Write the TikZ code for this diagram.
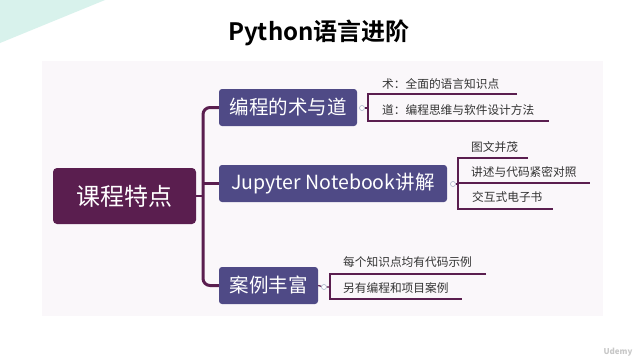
\documentclass[tikz,border=0pt]{standalone}
\usepackage{fontspec}
\setmainfont{Noto Sans CJK SC}
\newfontfamily\cjkb{Noto Sans CJK SC Bold}
\definecolor{deep}{HTML}{5A1E4F}
\definecolor{slate}{HTML}{4F4A86}
\definecolor{panel}{HTML}{FAF7FA}
\definecolor{mint}{HTML}{D8F2EC}
\definecolor{knob}{HTML}{A9B4C8}
\definecolor{subtxt}{HTML}{333333}
\begin{document}
\begin{tikzpicture}[x=1pt,y=-1pt,
  rootbox/.style={fill=deep,rounded corners=4pt,text=white,font=\fontsize{24}{28}\selectfont,inner sep=0pt},
  branchbox/.style={fill=slate,rounded corners=3pt,text=white,font=\fontsize{19.5}{22}\selectfont,inner sep=0pt,minimum height=37pt},
  mainline/.style={draw=deep,line width=3pt,rounded corners=7pt},
  subline/.style={draw=deep,line width=1.2pt},
  knobc/.style={circle,draw=knob,fill=white,line width=0.6pt,inner sep=0pt,minimum size=5pt},
  leaf/.style={anchor=west,text=subtxt,font=\fontsize{11.7}{13}\selectfont,inner sep=0pt}]
\useasboundingbox (0,0) rectangle (640,360);
\fill[white] (0,0) rectangle (640,360);
\fill[mint] (0,0) -- (105,0) -- (0,43) -- cycle;
\fill[panel] (42,61) rectangle (603,316);
\node[font=\cjkb\fontsize{24}{28}\selectfont] (title) at (319,33) {Python语言进阶};
\node[text=black!22,font=\bfseries\fontsize{8}{9}\selectfont] (wm) at (618,352) {Udemy};

\node[rootbox,minimum width=143pt,minimum height=56pt] (root) at (124.5,196) {课程特点};
\node[branchbox,minimum width=138pt] (b1) at (288,107.5) {编程的术与道};
\node[branchbox,minimum width=228pt] (b2) at (333,183.5) {Jupyter Notebook讲解};
\node[branchbox,minimum width=99pt] (b3) at (268.5,285.5) {案例丰富};

\coordinate (jt) at (203,107.5);
\coordinate (jb) at (203,285.5);
\draw[mainline] (b1.west) -- (jt) -- (jb) -- (b3.west);
\draw[draw=deep,line width=3pt] (jt|-b2.west) -- (b2.west);
\draw[draw=deep,line width=2pt] (root.east) -- (root.east-|jt);

% branch 1 leaves
\node[knobc] (k1) at (362,108) {};
\coordinate (v1t) at (368,94);
\coordinate (v1b) at (368,121);
\draw[subline] (k1) -- (k1-|v1t);
\draw[subline] (517,94) -- (v1t) -- (v1b) -- (549,121);
\node[leaf] (l11) at (382,84) {术：全面的语言知识点};
\node[leaf] (l12) at (382,110) {道：编程思维与软件设计方法};

% branch 2 leaves
\node[knobc] (k2) at (453,184) {};
\coordinate (v2t) at (458,158);
\coordinate (v2b) at (458,209);
\draw[subline] (k2) -- (k2-|v2t);
\draw[subline] (528,158) -- (v2t) -- (v2b) -- (553,209);
\draw[subline] (458,183) -- (590,183);
\node[leaf] (l21) at (471,147) {图文并茂};
\node[leaf] (l22) at (471,172.5) {讲述与代码紧密对照};
\node[leaf] (l23) at (472,197) {交互式电子书};

% branch 3 leaves
\node[knobc] (k3) at (324,287) {};
\coordinate (v3t) at (330,274);
\coordinate (v3b) at (330,299);
\draw[subline] (b3.east) -- (k3) -- (k3-|v3t);
\draw[subline] (486,274) -- (v3t) -- (v3b) -- (462,299);
\node[leaf] (l31) at (343,262) {每个知识点均有代码示例};
\node[leaf] (l32) at (343,288) {另有编程和项目案例};
\end{tikzpicture}
\end{document}
